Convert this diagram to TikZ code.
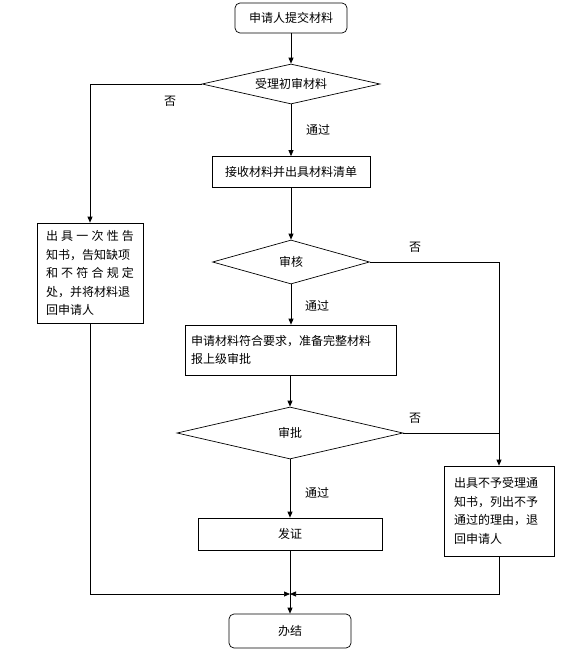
\documentclass[tikz,border=0pt]{standalone}
\usepackage{fontspec}
\newfontfamily\cjk{Noto Sans CJK SC}
\usetikzlibrary{shapes.geometric,arrows.meta}
\tikzset{
  every node/.style={font=\cjk\fontsize{12pt}{18.5pt}\selectfont},
  box/.style={draw, line width=0.7pt, rectangle, inner sep=0pt},
  rbox/.style={box, rounded corners=5pt},
  dia/.style={draw, line width=0.7pt, diamond, inner sep=1pt, aspect=4},
  lab/.style={inner sep=0pt},
  conn/.style={line width=0.7pt},
  arr/.style={conn, -{Triangle[length=6pt,width=5pt]}}
}
\begin{document}
\begin{tikzpicture}[x=1pt,y=-1pt]
\useasboundingbox (0,0) rectangle (585,661);
\node[rbox, minimum width=112pt, minimum height=30pt] (start) at (291,18) {申请人提交材料};
\node[dia, minimum width=178pt, minimum height=40pt] (d1) at (291,84) {受理初审材料};
\node[box, minimum width=158pt, minimum height=31pt] (recv) at (291,172) {接收材料并出具材料清单};
\node[dia, minimum width=157pt, minimum height=44pt] (d2) at (291,262) {审核};
\node[box, minimum width=211pt, minimum height=50pt, text width=200pt, align=left] (prep) at (291,350) {申请材料符合要求，准备完整材料\\报上级审批};
\node[dia, minimum width=226pt, minimum height=52pt] (d3) at (290,433) {审批};
\node[box, minimum width=184pt, minimum height=32pt] (fz) at (290,534) {发证};
\node[rbox, minimum width=122pt, minimum height=34pt] (end) at (290,631) {办结};
\node[box, minimum width=106pt, minimum height=100pt, text width=88pt, align=left] (left) at (90,273) {\makebox[88pt][l]{出\hfill 具\hfill 一\hfill 次\hfill 性\hfill 告}\\\makebox[88pt][l]{知书，告知缺项}\\\makebox[88pt][l]{和\hfill 不\hfill 符\hfill 合\hfill 规\hfill 定}\\\makebox[88pt][l]{处，并将材料退}\\回申请人};
\node[box, minimum width=110pt, minimum height=90pt, text width=90pt, align=left] (right) at (499,511) {出具不予受理通\\知书，列出不予\\通过的理由，退\\回申请人};
\coordinate (m) at (290,594);
\draw[arr] (start) -- (d1);
\draw[arr] (d1.west) -| (left.north);
\draw[arr] (d1) -- (recv);
\draw[arr] (recv) -- (d2);
\draw[arr] (d2.east) -| (right.north);
\draw[arr] (d2) -- (prep);
\draw[arr] (prep.south -| d3.north) -- (d3.north);
\draw[conn] (d3.east) -- (d3.east -| right.north);
\draw[arr] (d3) -- (fz);
\draw[arr] (fz) -- (end);
\draw[arr] (left.south) |- (m);
\draw[arr] (right.south) |- (m);
\node[lab] (n1) at (170,101) {否};
\node[lab] (y1) at (318,130) {通过};
\node[lab] (n2) at (415,247) {否};
\node[lab] (y2) at (317,306) {通过};
\node[lab] (n3) at (415,418) {否};
\node[lab] (y3) at (317,493) {通过};
\end{tikzpicture}
\end{document}
